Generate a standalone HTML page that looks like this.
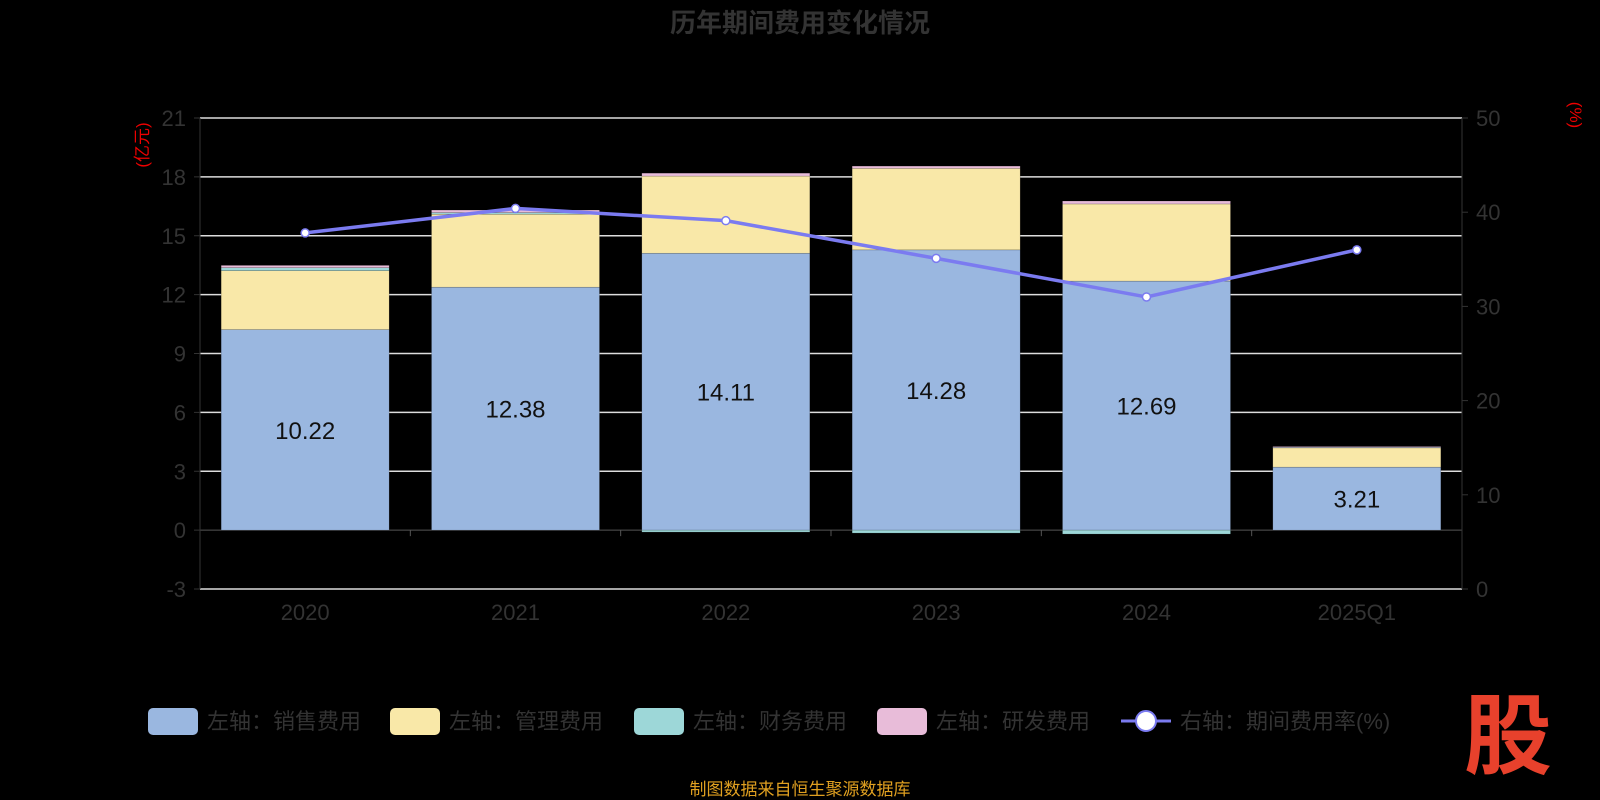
<!DOCTYPE html>
<html><head><meta charset="utf-8"><style>
html,body{margin:0;background:#000;width:1600px;height:800px;overflow:hidden;font-family:"Liberation Sans","Noto Sans CJK SC",sans-serif}
</style></head><body>
<svg id="c" width="1600" height="800" xmlns="http://www.w3.org/2000/svg">
<text x="800" y="32" text-anchor="middle" font-size="26" font-weight="bold" fill="#333" font-family="Liberation Sans,Noto Sans CJK SC,sans-serif">历年期间费用变化情况</text>
<text transform="translate(148,145) rotate(-90)" text-anchor="middle" font-size="17" fill="#e00" font-family="Liberation Sans,Noto Sans CJK SC,sans-serif">(亿元)</text>
<text transform="translate(1570,115) rotate(90)" text-anchor="middle" font-size="17" fill="#e00">(%)</text>
<g id="grid"></g><g id="bars"></g><g id="line"></g><g id="axes"></g>
<g id="legend" font-size="22" fill="#333" font-family="Liberation Sans,Noto Sans CJK SC,sans-serif"></g>
<text x="800" y="795" text-anchor="middle" font-size="17" fill="#e0a020" font-family="Liberation Sans,Noto Sans CJK SC,sans-serif">制图数据来自恒生聚源数据库</text>
<text x="1508" y="767" text-anchor="middle" font-size="88" font-weight="bold" fill="#e8412c" font-family="Noto Sans CJK SC,sans-serif">股</text>
</svg>
<script>
const categories=["2020","2021","2022","2023","2024","2025Q1"];
const sales=[10.22,12.38,14.11,14.28,12.69,3.21];
const mgmt=[3.0,3.72,3.93,4.15,3.93,1.0];
const finance=[0.15,0.08,-0.1,-0.15,-0.2,0.0];
const rnd=[0.12,0.13,0.15,0.12,0.15,0.05];
const rate=[37.8,40.4,39.1,35.1,31.0,36.0];
const leftTicks=[-3,0,3,6,9,12,15,18,21];
const rightTicks=[0,10,20,30,40,50];
const NS="http://www.w3.org/2000/svg";
const X0=200,X1=1462,YT=118,YB=589;
const yL=v=>YB-(v+3)/24*(YB-YT);
const yR=v=>YB-v/50*(YB-YT);
const bw=(X1-X0)/categories.length;
const xc=i=>X0+bw*(i+0.5);
function mk(t,a,p){const e=document.createElementNS(NS,t);for(const k in a)e.setAttribute(k,a[k]);document.getElementById(p).appendChild(e);return e;}
leftTicks.forEach(v=>{
 const g=mk("line",{x1:X0,x2:X1,y1:yL(v),y2:yL(v),stroke:v===0?"#555":"#ddd","stroke-width":v===0?1:1.5},"grid");
 
 
 const t=mk("text",{x:X0-14,y:yL(v)+8,"text-anchor":"end","font-size":22,fill:"#333"},"axes");t.textContent=v;
 
 
 mk("line",{x1:X0-6,x2:X0,y1:yL(v),y2:yL(v),stroke:"#333"},"axes");
});
rightTicks.forEach(v=>{
 const t=mk("text",{x:X1+14,y:yR(v)+8,"font-size":22,fill:"#333"},"axes");t.textContent=v;
 
 
 mk("line",{x1:X1,x2:X1+6,y1:yR(v),y2:yR(v),stroke:"#333"},"axes");
});
mk("line",{x1:X0,x2:X0,y1:YT,y2:YB,stroke:"#333"},"axes");
mk("line",{x1:X1,x2:X1,y1:YT,y2:YB,stroke:"#333"},"axes");
const series=[[sales,"#9ab7e0","sales"],[mgmt,"#f9e8a8","mgmt"],[finance,"#9dd7d8","finance"],[rnd,"#e8bcd9","rnd"]];
categories.forEach((c,i)=>{
 const t=mk("text",{x:xc(i),y:620,"text-anchor":"middle","font-size":22,fill:"#333"},"axes");t.textContent=c;
 
 
 if(i>0) mk("line",{x1:X0+bw*i,x2:X0+bw*i,y1:yL(0),y2:yL(0)+6,stroke:"#555"},"axes");
 let pos=0,neg=0;const bx=xc(i)-84;
 series.forEach(([arr,col,nm])=>{
  const v=arr[i];let a,b;
  if(v>=0){a=pos;b=pos+v;pos=b;}else{a=neg;b=neg+v;neg=b;}
  const r=mk("rect",{x:bx,width:168,y:Math.min(yL(a),yL(b)),height:Math.max(Math.abs(yL(a)-yL(b)),0.5),fill:col,stroke:"rgba(0,0,0,0.3)","stroke-width":0.5},"bars");
  
  
 });
 const l=mk("text",{x:xc(i),y:yL(sales[i]/2)+9,"text-anchor":"middle","font-size":24,fill:"#111"},"bars");l.textContent=sales[i].toFixed(2);
 
 
});
const pl=mk("polyline",{points:rate.map((v,i)=>xc(i)+","+yR(v)).join(" "),fill:"none",stroke:"#7b7bf0","stroke-width":3.5},"line");


rate.forEach((v,i)=>{
 const p=mk("circle",{cx:xc(i),cy:yR(v),r:4,fill:"#fff",stroke:"#7b7bf0","stroke-width":1.5},"line");
 
 
});
const leg=[["#9ab7e0","左轴：销售费用",148],["#f9e8a8","左轴：管理费用",390],["#9dd7d8","左轴：财务费用",634],["#e8bcd9","左轴：研发费用",877]];
leg.forEach(([col,txt,x])=>{
 const r=mk("rect",{x:x,y:708,width:50,height:27,rx:5,fill:col},"legend");
 
 
 const t=mk("text",{x:x+59,y:729},"legend");t.textContent=txt;
 
 
});
mk("line",{x1:1121,x2:1171,y1:721,y2:721,stroke:"#7b7bf0","stroke-width":3},"legend");
const lc=mk("circle",{cx:1146,cy:721,r:10,fill:"#fff",stroke:"#7b7bf0","stroke-width":2},"legend");


const lt=mk("text",{x:1180,y:729},"legend");lt.textContent="右轴：期间费用率(%)";


</script>
</body></html>
